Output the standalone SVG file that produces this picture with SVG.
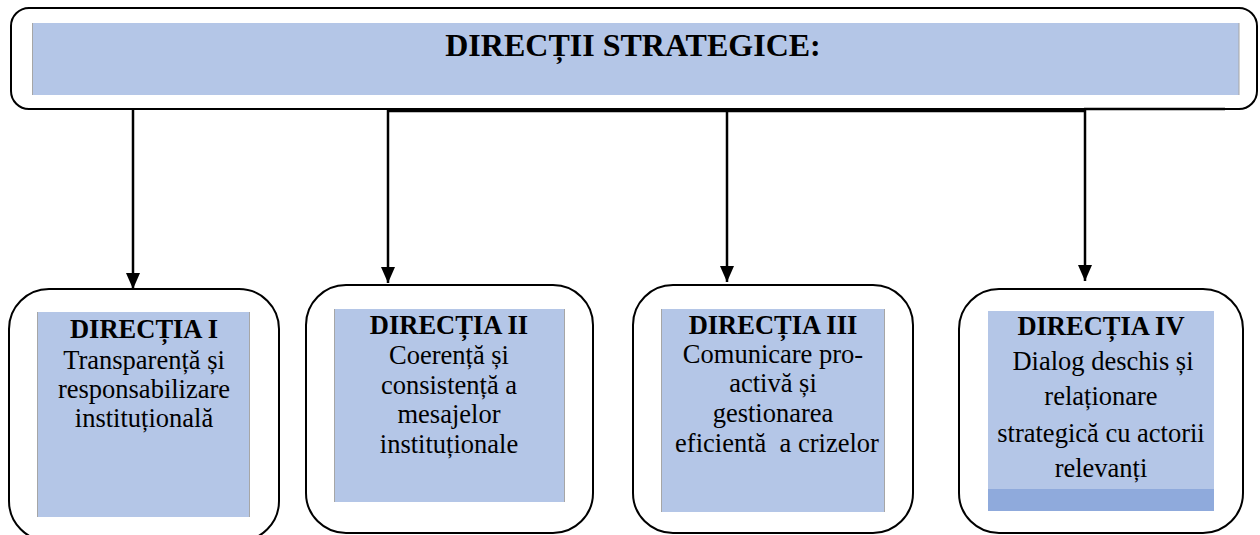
<svg xmlns="http://www.w3.org/2000/svg" width="1260" height="535" viewBox="0 0 1260 535">
<style>
.outer{fill:#fff;stroke:#000;stroke-width:2}
.inner{fill:#B4C6E7}
.edge{stroke:#A6A6A6;stroke-width:1}
.conn{fill:none;stroke:#000;stroke-width:2.5}
text{font-family:"Liberation Serif","Times New Roman",serif;fill:#000;text-anchor:middle}
.t{font-size:26.5px}
.b{font-weight:bold}
.title{font-size:32px;font-weight:bold}
</style>
<defs>
<marker id="ah" markerUnits="userSpaceOnUse" viewBox="0 0 16 14" markerWidth="16" markerHeight="14" refX="16" refY="7" orient="auto">
<path d="M0,0 L16,7 L0,14 Z" fill="#000"/>
</marker>
</defs>
<g id="header">
<rect class="outer" x="11" y="8" width="1246" height="101" rx="18"/>
<rect class="inner" x="32" y="23" width="1207" height="72"/>
<line class="edge" x1="32.5" y1="23" x2="32.5" y2="95"/>
<line class="edge" x1="1239" y1="23" x2="1239" y2="95"/>
<text class="title" x="633" y="56">DIRECȚII STRATEGICE:</text>
</g>
<g id="connectors">
<path class="conn" d="M388,111 H1084 M1084,109 H1225"/>
<line class="conn" x1="133" y1="109" x2="133" y2="289" marker-end="url(#ah)"/>
<line class="conn" x1="388" y1="110" x2="388" y2="283" marker-end="url(#ah)"/>
<line class="conn" x1="727" y1="110" x2="727" y2="282" marker-end="url(#ah)"/>
<line class="conn" x1="1085" y1="108" x2="1085" y2="281" marker-end="url(#ah)"/>
</g>
<g id="dir1">
<rect class="outer" x="9" y="289" width="270" height="252" rx="40"/>
<rect class="inner" x="37" y="312" width="213" height="205"/>
<line class="edge" x1="37.5" y1="312" x2="37.5" y2="517"/>
<line class="edge" x1="249.5" y1="312" x2="249.5" y2="517"/>
<text class="t b" x="144" y="338">DIRECȚIA I</text>
<text class="t" x="144" y="369">Transparență și</text>
<text class="t" x="144" y="398">responsabilizare</text>
<text class="t" x="144" y="427">instituțională</text>
</g>
<g id="dir2">
<rect class="outer" x="306" y="285" width="287" height="248" rx="40"/>
<rect class="inner" x="334" y="309" width="231" height="193"/>
<line class="edge" x1="334.5" y1="309" x2="334.5" y2="502"/>
<line class="edge" x1="564.5" y1="309" x2="564.5" y2="502"/>
<text class="t b" x="449" y="334">DIRECȚIA II</text>
<text class="t" x="449" y="364">Coerență și</text>
<text class="t" x="449" y="394">consistență a</text>
<text class="t" x="449" y="423">mesajelor</text>
<text class="t" x="449" y="453">instituționale</text>
</g>
<g id="dir3">
<rect class="outer" x="633" y="285" width="280" height="248" rx="40"/>
<rect class="inner" x="661" y="309" width="224" height="203"/>
<line class="edge" x1="661.5" y1="309" x2="661.5" y2="512"/>
<line class="edge" x1="884.5" y1="309" x2="884.5" y2="512"/>
<text class="t b" x="773" y="334">DIRECȚIA III</text>
<text class="t" x="773" y="363">Comunicare pro-</text>
<text class="t" x="773" y="392">activă și</text>
<text class="t" x="773" y="422">gestionarea</text>
<text class="t" x="777" y="452" xml:space="preserve">eficientă  a crizelor</text>
</g>
<g id="dir4">
<rect class="outer" x="959" y="289" width="284" height="244" rx="40"/>
<rect class="inner" x="988" y="311" width="226" height="200"/>
<rect x="988" y="489" width="226" height="22" fill="#8FAADC"/>
<text class="t b" x="1101" y="335">DIRECȚIA IV</text>
<text class="t" x="1103" y="370">Dialog deschis și</text>
<text class="t" x="1101" y="405">relaționare</text>
<text class="t" x="1101" y="442">strategică cu actorii</text>
<text class="t" x="1101" y="477">relevanți</text>
</g>
</svg>
